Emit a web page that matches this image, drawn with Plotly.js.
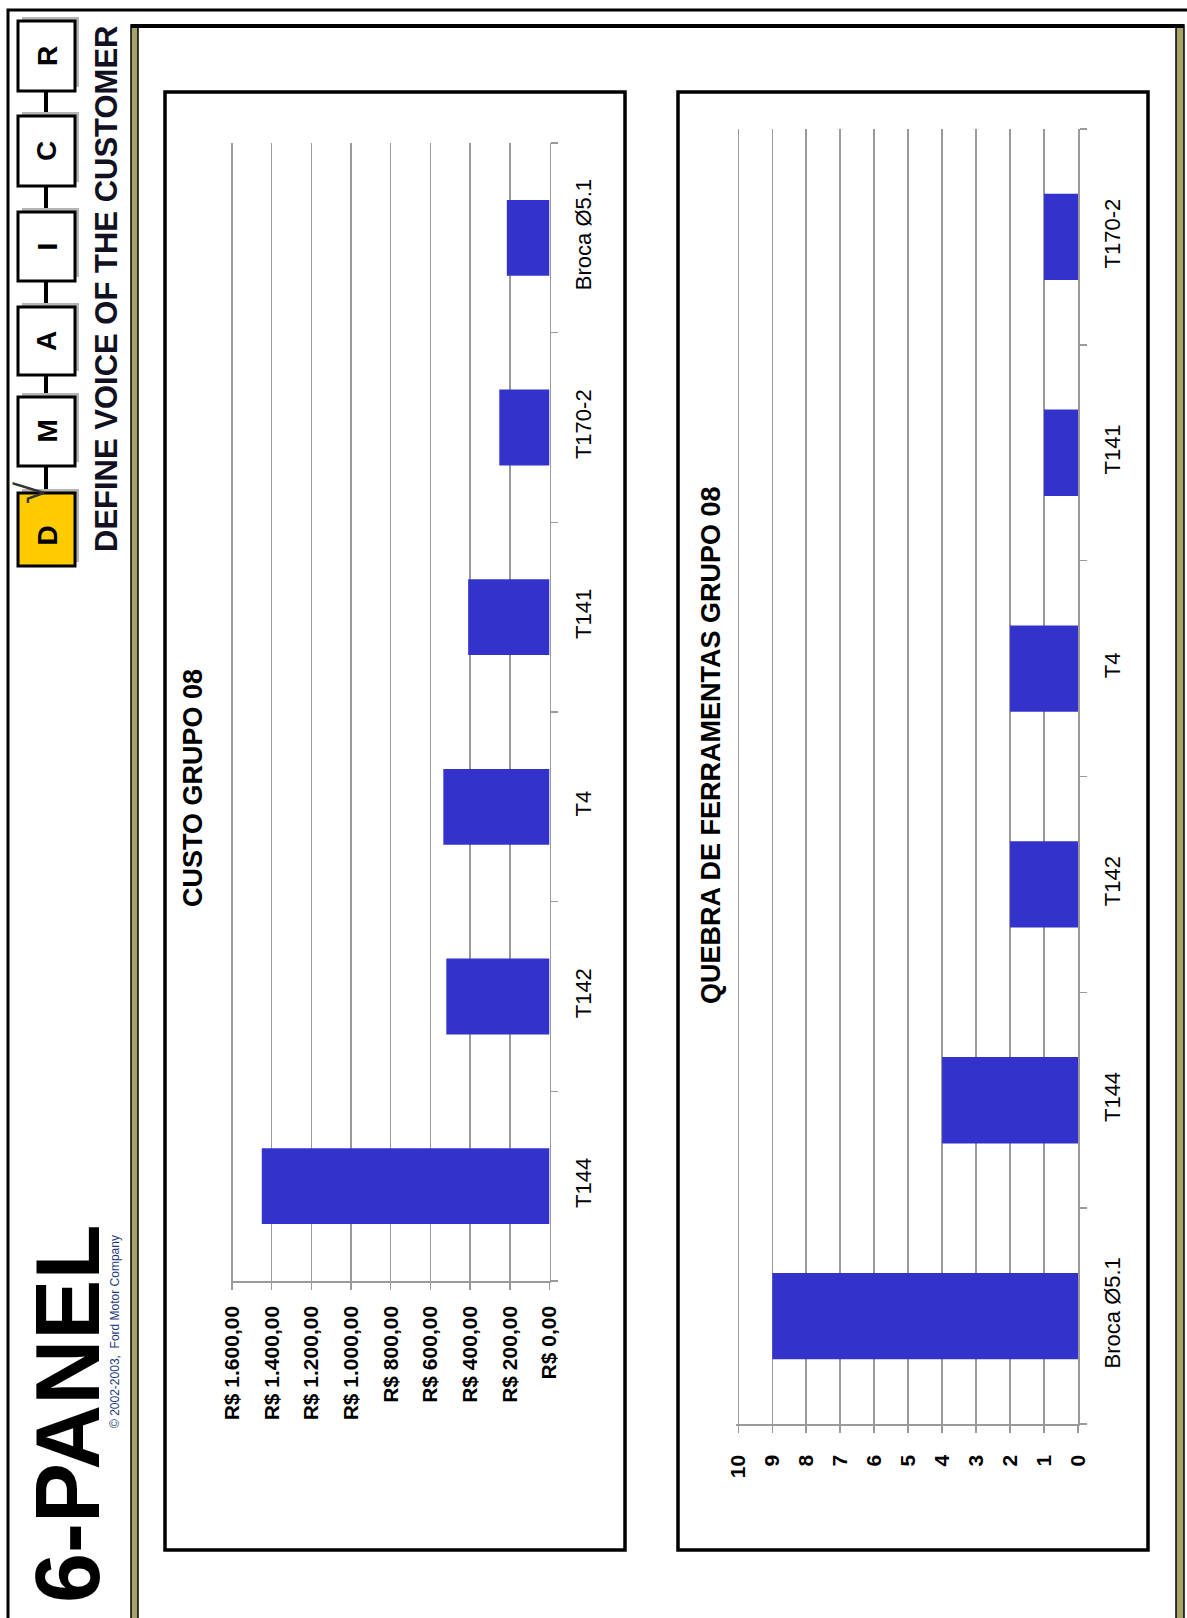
<!DOCTYPE html>
<html>
<head>
<meta charset="utf-8">
<script src="https://cdn.plot.ly/plotly-3.0.1.min.js"></script>
<style>
  html, body { margin: 0; padding: 0; background: #ffffff; }
  #chart { width: 1187px; height: 1618px; }
</style>
</head>
<body>
<div id="chart"></div>
<script>
// ---------- data ----------
const custoCategorias = ["T144", "T142", "T4", "T141", "T170-2", "Broca Ø5.1"];
const custoValores = [1450, 520, 535, 410, 253, 215];
const custoTickVals = [0, 200, 400, 600, 800, 1000, 1200, 1400, 1600];
const custoTickText = ["R$ 0,00", "R$ 200,00", "R$ 400,00", "R$ 600,00", "R$ 800,00",
                       "R$ 1.000,00", "R$ 1.200,00", "R$ 1.400,00", "R$ 1.600,00"];
const custoTitulo = "CUSTO GRUPO 08";

const quebraCategorias = ["Broca Ø5.1", "T144", "T142", "T4", "T141", "T170-2"];
const quebraValores = [9, 4, 2, 2, 1, 1];
const quebraTickVals = [0, 1, 2, 3, 4, 5, 6, 7, 8, 9, 10];
const quebraTitulo = "QUEBRA DE FERRAMENTAS GRUPO 08";

const dmaicLetras = ["R", "C", "I", "A", "M", "D"];
const cabecalho = "DEFINE VOICE OF THE CUSTOMER";
const painelTitulo = "6-PANEL";
const copyright = "© 2002-2003,  Ford Motor Company";

// ---------- helpers ----------
const W = 1187, H = 1618;
const FONT = "Liberation Sans, Arial, Helvetica, sans-serif";
const px = x => x / W;
const py = y => 1 - y / H;
const BAR = "#3333CC";
const GRID = "#9a9a9a";

const shapes = [];
const annotations = [];
function rect(x0, y0, x1, y1, fill, lineColor, lineWidth) {
  shapes.push({type: "rect", xref: "paper", yref: "paper",
    x0: px(x0), x1: px(x1), y0: py(y0), y1: py(y1),
    fillcolor: fill, line: {color: lineColor, width: lineWidth}, layer: "above"});
}
function line(x0, y0, x1, y1, color, width) {
  shapes.push({type: "line", xref: "paper", yref: "paper",
    x0: px(x0), x1: px(x1), y0: py(y0), y1: py(y1),
    line: {color: color, width: width}, layer: "above"});
}
function text(t, x, y, size, color, bold) {
  annotations.push({text: t, xref: "paper", yref: "paper", x: px(x), y: py(y),
    xanchor: "center", yanchor: "middle", showarrow: false, textangle: -90,
    font: {family: FONT, size: size, color: color, weight: bold ? "bold" : "normal"}});
}

// outer frame
rect(8, 10, 1300, 1800, "rgba(0,0,0,0)", "#000", 3);
// inner frame: olive bars + black top line
rect(131, 25, 138, 1800, "#A5A36A", "#000", 1.5);
rect(1176, 25, 1184, 1800, "#A5A36A", "#000", 1.5);
line(131, 26, 1184, 26, "#000", 4);

// chart boxes
rect(165, 92, 625, 1550, "rgba(0,0,0,0)", "#000", 3.5);
rect(678, 92, 1148, 1550, "rgba(0,0,0,0)", "#000", 3.5);

// DMAIC boxes
const boxY = [[21, 91], [116, 186], [212, 281], [307, 375], [397, 466], [493, 566]];
for (let i = 0; i < boxY.length - 1; i++) {
  line(46, boxY[i][1], 46, boxY[i + 1][0], "#000", 4);
}
boxY.forEach((b, i) => {
  rect(22, b[0] - 4, 79, b[1] - 4, "#b5b5b5", "#b5b5b5", 0);
  rect(18, b[0], 75, b[1], dmaicLetras[i] === "D" ? "#FFCC00" : "#ffffff", "#000", 3);
  text(dmaicLetras[i], 47, (b[0] + b[1]) / 2 + (dmaicLetras[i] === "D" ? 6 : 0), 28, "#000", true);
});
text("√", 30, 493, 40, "#333", false);

text(cabecalho, 107, 289, 31, "#111122", true);
text(painelTitulo, 68, 1414, 90, "#000", true);
text(copyright, 115, 1332, 12, "#1f3a7a", false);

text(custoTitulo, 193, 788, 27, "#000", true);
text(quebraTitulo, 711, 745, 27, "#000", true);

// ---------- traces ----------
const traces = [
  {type: "bar", orientation: "h", x: custoValores, y: custoCategorias,
   xaxis: "x", yaxis: "y", marker: {color: BAR}, hoverinfo: "skip"},
  {type: "bar", orientation: "h", x: quebraValores, y: quebraCategorias,
   xaxis: "x2", yaxis: "y2", marker: {color: BAR}, hoverinfo: "skip"}
];

const valueAxisBase = {
  tickangle: -90, showgrid: true, gridcolor: GRID, gridwidth: 1.5,
  showline: true, linecolor: GRID, linewidth: 1.5, zeroline: false,
  ticks: "outside", ticklen: 7, tickcolor: GRID, tickwidth: 1.5,
  tickfont: {family: FONT, size: 21, color: "#000", weight: "bold"},
  fixedrange: true
};
const catAxisBase = {
  type: "category", side: "right", tickangle: -90, showgrid: false,
  showline: true, linecolor: GRID, linewidth: 1.5,
  ticks: "outside", tickson: "boundaries", ticklen: 7, tickcolor: GRID, tickwidth: 1.5,
  tickfont: {family: FONT, size: 22, color: "#000"},
  ticklabelstandoff: 14, range: [-0.5, 5.5], fixedrange: true
};

// value-axis pixel geometry (slightly padded range so the outer gridline is kept)
const c1Zero = 549.5, c1PerUnit = 317.5 / 1600, c1Max = 1606;
const c2Zero = 1078, c2PerUnit = 339.7 / 10, c2Max = 10.06;

const layout = {
  width: W, height: H,
  margin: {l: 0, r: 0, t: 0, b: 0},
  paper_bgcolor: "#ffffff", plot_bgcolor: "rgba(0,0,0,0)",
  showlegend: false, bargap: 0.6,
  xaxis: Object.assign({}, valueAxisBase, {
    domain: [px(c1Zero - c1PerUnit * c1Max), px(c1Zero)], anchor: "y", range: [c1Max, 0],
    tickvals: custoTickVals, ticktext: custoTickText, ticklabelstandoff: 8
  }),
  yaxis: Object.assign({}, catAxisBase, {
    domain: [py(1281), py(143)], anchor: "x",
    categoryorder: "array", categoryarray: custoCategorias
  }),
  xaxis2: Object.assign({}, valueAxisBase, {
    domain: [px(c2Zero - c2PerUnit * c2Max), px(c2Zero)], anchor: "y2", range: [c2Max, 0],
    tickvals: quebraTickVals, ticklabelstandoff: 14
  }),
  yaxis2: Object.assign({}, catAxisBase, {
    domain: [py(1424), py(129)], anchor: "x2",
    categoryorder: "array", categoryarray: quebraCategorias
  }),
  shapes: shapes,
  annotations: annotations
};

Plotly.newPlot("chart", traces, layout, {displayModeBar: false, staticPlot: true});
</script>
</body>
</html>
